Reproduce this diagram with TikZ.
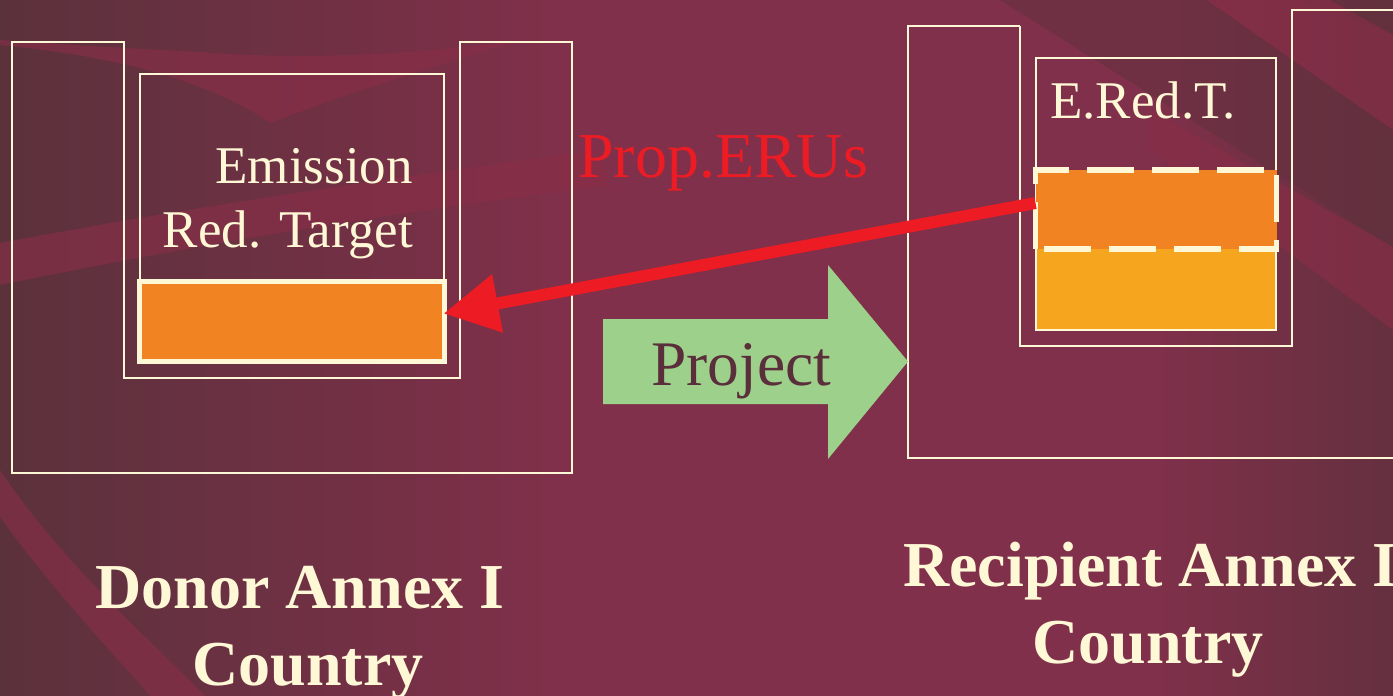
\documentclass[tikz,border=0pt]{standalone}
\usepackage{fontspec}
\setmainfont{Liberation Serif}
\usetikzlibrary{arrows.meta,calc}
\definecolor{cream}{HTML}{FFF8D6}
\definecolor{bgdark}{HTML}{5B313C}
\definecolor{bgmid}{HTML}{80304A}
\definecolor{bgright}{HTML}{653040}
\definecolor{bandlight}{HTML}{8A2E48}
\definecolor{banddark}{HTML}{60303D}
\definecolor{orangeA}{HTML}{F28322}
\definecolor{orangeB}{HTML}{F6A61E}
\definecolor{redA}{HTML}{ED1C24}
\definecolor{greenA}{HTML}{9DD08A}
\definecolor{textdark}{HTML}{5A2E3A}
\tikzset{
  wall/.style={draw=cream, line width=2pt},
  lbl/.style={text=cream, font=\fontsize{53}{60}\selectfont, inner sep=0pt},
  ttl/.style={text=cream, font=\bfseries\fontsize{64}{70}\selectfont, inner sep=0pt},
  lightband/.style={fill=bandlight, opacity=0.6},
  darkband/.style={fill=banddark, opacity=0.5},
  redarrow/.style={draw=redA, line width=12pt, -{Triangle[length=55pt,width=56pt]}},
}
\begin{document}
\begin{tikzpicture}[x=1pt,y=-1pt]
\useasboundingbox (0,0) rectangle (1393,696);
\clip (0,0) rectangle (1393,696);
% background
\fill[bgmid] (0,0) rectangle (1393,696);
\shade[left color=bgdark, right color=bgmid] (0,0) rectangle (560,696);
\shade[left color=bgmid, right color=bgright] (1150,0) rectangle (1393.5,696);
\fill[lightband] (0,45) .. controls (100,55) and (200,75) .. (270,123) .. controls (330,100) and (420,70) .. (520,40) .. controls (420,55) and (300,60) .. (200,52) .. controls (120,48) and (60,44) .. (0,40) -- cycle;
\fill[lightband] (0,243) .. controls (150,215) and (300,190) .. (600,150) -- (610,185) .. controls (300,225) and (150,255) .. (0,285) -- cycle;
\fill[lightband] (0,517) .. controls (60,600) and (120,660) .. (150,696) -- (205,696) .. controls (150,640) and (60,560) .. (0,470) -- cycle;
\fill[darkband] (1000,0) -- (1207,0) -- (1393,130) -- (1393,247) -- cycle;
\fill[darkband] (1300,0) -- (1393,0) -- (1393,35) -- cycle;
\fill[lightband] (1207,0) -- (1330,0) -- (1393,35) -- (1393,130) -- cycle;
\fill[lightband] (1393,247) -- (1150,110) -- (1150,150) -- (1393,330) -- cycle;
% donor (left) container
\draw[wall] (12,42) -- (124,42) -- (124,378) -- (460,378) -- (460,42) -- (572,42) -- (572,473) -- (12,473) -- cycle;
\draw[wall] (140,280) -- (140,74) -- (444,74) -- (444,280);
\node[draw=cream, line width=5pt, fill=orangeA, minimum width=305pt, minimum height=80pt, outer sep=0pt, inner sep=0pt] (dbar) at (292,321.5) {};
\node[lbl, anchor=base east] (em1) at (413,183) {Emission};
\node[lbl, anchor=base east] (em2) at (413,247) {Red. Target};
% recipient (right) container
\draw[wall] (1020,26) -- (908,26) -- (908,458) -- (1400,458);
\draw[wall] (1020,26) -- (1020,346) -- (1292,346) -- (1292,10) -- (1400,10);
\fill[orangeB] (1036,249) rectangle (1276,330);
\draw[draw=cream, line width=2pt] (1036,58) rectangle (1276,330);
\node[draw=cream, line width=5.5pt, dash pattern=on 47pt off 18pt, dash phase=-8pt, fill=orangeA, minimum width=241pt, minimum height=79pt, outer sep=0pt, inner sep=0pt] (rbar) at (1156,209.5) {};
\node[lbl, anchor=base west] (ered) at (1050,118) {E.Red.T.};
% Prop.ERUs arrow
\node[text=redA, font=\fontsize{64}{70}\selectfont, inner sep=0pt, anchor=base west] (eru) at (578,177) {Prop.ERUs};
\draw[redarrow] ($(rbar.west)+(0,-6.5)$) -- ($(dbar.east)+(-1,-8)$);
% Project arrow
\fill[greenA] (603,319) -- (828,319) -- (828,265) -- (908,361.5) -- (828,459) -- (828,404) -- (603,404) -- cycle;
\node[text=textdark, font=\fontsize{63.5}{70}\selectfont, inner sep=0pt, anchor=base west] (proj) at (651,385) {Project};
% titles
\node[ttl, anchor=base] (d1) at (300,608) {Donor Annex I};
\node[ttl, anchor=base] (d2) at (308,685) {Country};
\node[ttl, anchor=base west] (r1) at (903,586) {Recipient Annex I};
\node[ttl, anchor=base] (r2) at (1148,663) {Country};
\end{tikzpicture}
\end{document}
